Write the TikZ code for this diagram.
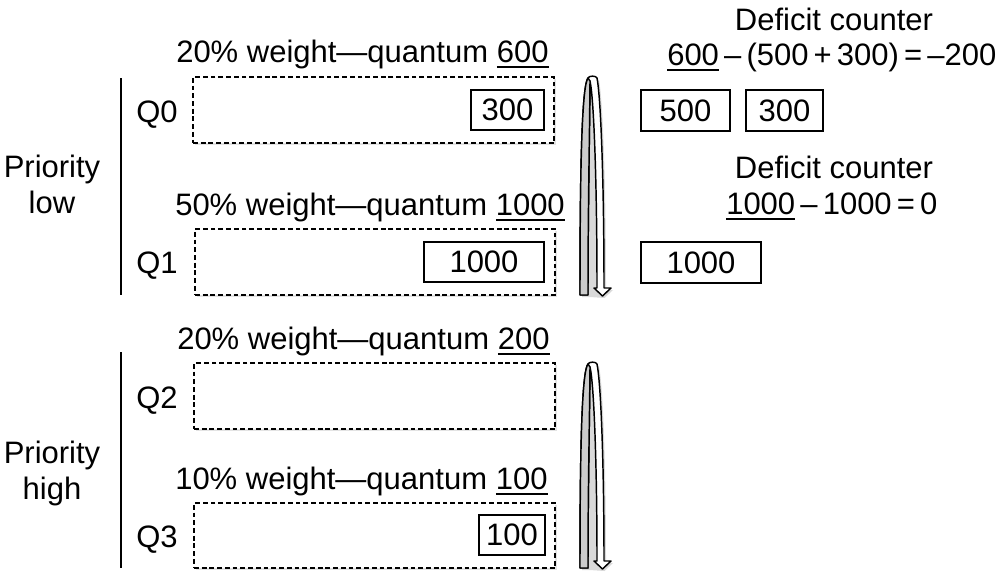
\documentclass[tikz,border=0pt]{standalone}
\usepackage{fontspec}
\setmainfont{Liberation Sans}
\usetikzlibrary{shadows}
\newcommand\ulx[1]{\setbox0\hbox{#1}\rlap{\rule[-4.6pt]{\wd0}{1.5pt}}\box0}
\newcommand\uturnarrow[2]{%
  \def\T{#1}\def\B{#2}\def\H{(#2-#1)}%
  \fill[black, opacity=0.15] ([shift={(1.5pt,-1.5pt)}]580,{\B-1}) .. controls ([shift={(1.5pt,-1.5pt)}]580,{\T+0.4*\H}) and ([shift={(1.5pt,-1.5pt)}]582,{\T+0.04*\H}) .. ([shift={(1.5pt,-1.5pt)}]588,{\T+1}) -- ([shift={(1.5pt,-1.5pt)}]597,{\T+1}) .. controls ([shift={(1.5pt,-1.5pt)}]601,{\T+0.1*\H}) and ([shift={(1.5pt,-1.5pt)}]604,{\T+0.5*\H}) .. ([shift={(1.5pt,-1.5pt)}]604,{\B-8}) -- ([shift={(1.5pt,-1.5pt)}]611,{\B-8}) -- ([shift={(1.5pt,-1.5pt)}]602.5,{\B}) -- ([shift={(1.5pt,-1.5pt)}]588,{\B-1}) -- cycle;
  \draw[arrline, fill=white] (580,{\B-1}) .. controls (580,{\T+0.4*\H}) and (582,{\T+0.04*\H}) .. (588,{\T+1})
     .. controls (589,{\T-1.5}) and (596,{\T-1.5}) .. (597,{\T+1})
     .. controls (601,{\T+0.1*\H}) and (604,{\T+0.5*\H}) .. (604,{\B-8})
     -- (611,{\B-8}) -- (602.5,{\B}) -- (594,{\B-8}) -- (597,{\B-8})
     .. controls (597,{\T+0.5*\H}) and (594,{\T+0.1*\H}) .. (590,{\T+4})
     .. controls (589.5,{\T+0.3*\H}) and (588,{\T+0.6*\H}) .. (588,{\B-1}) -- cycle;
  \draw[arrline, fill=gray!40] (580,{\B-1}) .. controls (580,{\T+0.4*\H}) and (582,{\T+0.04*\H}) .. (588,{\T+1})
     -- (590,{\T+4})
     .. controls (589.5,{\T+0.3*\H}) and (588,{\T+0.6*\H}) .. (588,{\B-1}) -- cycle;
}
\begin{document}
\begin{tikzpicture}[x=0.75pt,y=-0.75pt,
  txt/.style={inner sep=0pt, anchor=base west, font=\fontsize{23.25}{27}\selectfont},
  ctxt/.style={txt, anchor=base},
  qbox/.style={draw, line width=1.1pt, dash pattern=on 3.6pt off 2.2pt, fill=white, inner sep=0pt,
     minimum height=49.5pt,
     drop shadow={opacity=0.22, shadow xshift=1.2pt, shadow yshift=-1.6pt}},
  sbox/.style={draw, line width=1.5pt, inner sep=0pt, font=\fontsize{23.25}{27}\selectfont},
  vline/.style={line width=2.2pt},
  arrline/.style={line width=1.1pt, line join=round}
]
\useasboundingbox (0,0) rectangle (1003,579);

% ---------- low priority group ----------
\coordinate (v1t) at (121,78);
\coordinate (v1b) at (121,295);
\draw[vline] (v1t) -- (v1b);
\node[ctxt] (plow1) at (52,177) {Priority};
\node[ctxt] (plow2) at (52,213) {low};

\node[txt] (w0) at (176,62) {20\% weight—quantum \ulx{600}};
\node[qbox, minimum width={361*0.75pt}] (q0box) at (373.5,110) {};
\node[ctxt] (q0) at (157,122) {Q0};
\node[sbox, minimum width={73*0.75pt}, minimum height={40*0.75pt}] (p300) at (507.5,110) {300};

\node[txt] (w1) at (175,215) {50\% weight—quantum \ulx{1000}};
\node[qbox, minimum width={360*0.75pt}] (q1box) at (375,262) {};
\node[ctxt] (q1) at (157,273) {Q1};
\node[sbox, minimum width={120*0.75pt}, minimum height={40*0.75pt}] (p1000) at (484,262) {1000};

\uturnarrow{77}{296}

% ---------- high priority group ----------
\coordinate (v2t) at (121,352);
\coordinate (v2b) at (121,568);
\draw[vline] (v2t) -- (v2b);
\node[ctxt] (phigh1) at (52,463) {Priority};
\node[ctxt] (phigh2) at (52,499) {high};

\node[txt] (w2) at (177,349) {20\% weight—quantum \ulx{200}};
\node[qbox, minimum width={361*0.75pt}] (q2box) at (374.5,396) {};
\node[ctxt] (q2) at (157,408) {Q2};

\node[txt] (w3) at (175,489) {10\% weight—quantum \ulx{100}};
\node[qbox, minimum width={361*0.75pt}, minimum height={65*0.75pt}] (q3box) at (374.5,535.5) {};
\node[ctxt] (q3) at (157,547) {Q3};
\node[sbox, minimum width={66*0.75pt}, minimum height={40*0.75pt}] (p100) at (512,535) {100};

\uturnarrow{363}{569}

% ---------- deficit counters ----------
\node[ctxt] (dc1) at (834,30) {Deficit counter};
\node[txt] (eq1) at (667,65) {\ulx{600}\,–\,(500\,+\,300)\,=\,–200};
\node[sbox, minimum width={89*0.75pt}, minimum height={41*0.75pt}] (d500) at (685.5,110.5) {500};
\node[sbox, minimum width={77*0.75pt}, minimum height={41*0.75pt}] (d300) at (784.5,110.5) {300};

\node[ctxt] (dc2) at (834,178) {Deficit counter};
\node[txt] (eq2) at (726,214) {\ulx{1000}\,–\,1000\,=\,0};
\node[sbox, minimum width={120*0.75pt}, minimum height={41*0.75pt}] (d1000) at (701,262.5) {1000};
\end{tikzpicture}
\end{document}
